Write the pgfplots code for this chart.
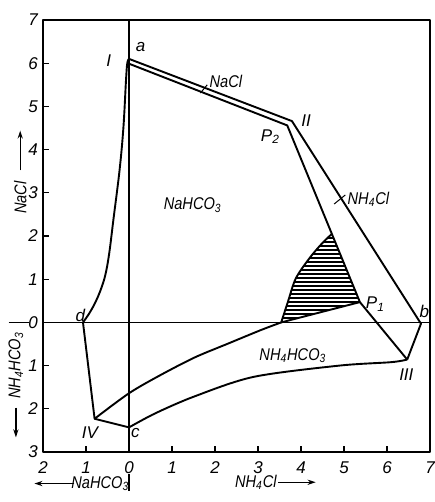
\documentclass[border=0pt]{standalone}
\usepackage{fontspec}
\setmainfont{Liberation Sans}
\usepackage{graphicx}
\usepackage{pgfplots}
\pgfplotsset{compat=1.18}
\usetikzlibrary{patterns.meta,arrows.meta}
\newcommand{\lab}{\fontsize{8.5}{10}\selectfont\itshape}
\newcommand{\cn}[1]{\scalebox{0.86}[1]{#1}}
\begin{document}
\begin{tikzpicture}[line cap=round, line join=round]
\begin{axis}[
  scale only axis, width=193.5pt, height=216pt,
  xmin=-2, xmax=7, ymin=-3, ymax=7,
  clip=false,
  axis line style={line width=0.7pt},
  xtick={-2,-1,...,7}, xticklabels={2,1,0,1,2,3,4,5,6,7},
  ytick={-3,-2,...,7}, yticklabels={3,2,1,0,1,2,3,4,5,6,7},
  tick pos=left, tick align=inside, major tick length=3pt,
  every tick/.style={black, line width=0.6pt},
  /pgf/number format/assume math mode=true,
  ticklabel style={font=\lab},
  yticklabel style={xshift=1pt},
  xticklabel style={yshift=-1.5pt},
  cycle list={{black, line width=0.95pt, mark=none}},
  every axis plot/.append style={black, line width=0.95pt, mark=none},
]
% reference lines through zero
\draw[line width=0.6pt] (axis cs:-2,0) -- (axis cs:7,0);
\draw[line width=0.6pt] (axis cs:-2.8,0) -- (axis cs:-2.32,0);
\draw[line width=0.6pt] (axis cs:0,-3) -- (axis cs:0,7);
\draw[line width=0.6pt] (axis cs:0,-3.5) -- (axis cs:0,-3.9);

% hatched region
\addplot[draw=none, pattern={Lines[angle=0,distance=2pt,line width=0.65pt]}]
  coordinates {(3.54,0) (3.6,0.22) (3.7,0.49) (3.88,1.02) (4.2,1.49) (4.5,1.84) (4.72,2.05) (5.37,0.47) (3.54,0)} -- cycle;
\addplot[smooth] coordinates {(3.54,0) (3.7,0.49) (3.88,1.02) (4.2,1.49) (4.5,1.84) (4.72,2.05)};

% left curve d -> I and outer boundary a - II - b - III
\addplot[smooth, tension=0.6] coordinates {(-1.07,0) (-0.93,0.2) (-0.79,0.45) (-0.66,0.75) (-0.55,1.1) (-0.46,1.6) (-0.36,2.4) (-0.22,3.52) (-0.13,4.51) (-0.07,5.6) (-0.04,6.0) (0.0,6.1)};
\addplot coordinates {(0.0,6.1) (3.79,4.66) (6.79,-0.03) (6.47,-0.86)};
% inner boundary I - P2 - P1 - III
\addplot coordinates {(-0.03,6.0) (3.68,4.56) (5.37,0.47) (6.47,-0.86)};
% d - IV - c
\addplot coordinates {(-1.07,0) (-0.8,-2.23) (0,-2.43)};
% upper curve IV -> zero line -> P1
\addplot[smooth] coordinates {(-0.8,-2.23) (0,-1.64) (0.73,-1.22) (1.53,-0.81) (2.28,-0.5) (3.06,-0.18) (3.54,0)};
\addplot coordinates {(3.54,0) (5.37,0.47)};
% lower curve c -> III
\addplot[smooth] coordinates {(0,-2.43) (0.62,-2.1) (1.53,-1.71) (2.9,-1.26) (4.89,-1.0) (6.1,-0.92) (6.47,-0.86)};

% leaders
\draw[line width=0.5pt] (axis cs:1.66,5.31) -- (axis cs:1.82,5.5);
\draw[line width=0.5pt] (axis cs:4.77,2.74) -- (axis cs:5.03,2.95);

% labels
\node[font=\lab] at (axis cs:-0.47,6.06) {I};
\node[font=\lab] at (axis cs:0.27,6.37) {a};
\node[font=\lab, anchor=west, inner sep=1pt] at (axis cs:1.82,5.58) {\cn{NaCl}};
\node[font=\lab] at (axis cs:4.12,4.68) {II};
\node[font=\lab] at (axis cs:3.29,4.3) {P\textsubscript{2}};
\node[font=\lab, anchor=west, inner sep=1pt] at (axis cs:5.03,2.85) {\cn{NH\textsubscript{4}Cl}};
\node[font=\lab] at (axis cs:1.48,2.72) {\cn{NaHCO\textsubscript{3}}};
\node[font=\lab] at (axis cs:5.73,0.42) {P\textsubscript{1}};
\node[font=\lab] at (axis cs:6.87,0.25) {b};
\node[font=\lab] at (axis cs:3.81,-0.77) {\cn{NH\textsubscript{4}HCO\textsubscript{3}}};
\node[font=\lab] at (axis cs:6.45,-1.22) {III};
\node[font=\lab] at (axis cs:-0.91,-2.55) {IV};
\node[font=\lab] at (axis cs:0.15,-2.57) {c};
\node[font=\lab] at (axis cs:-1.13,0.16) {d};

% axis titles
\node[font=\lab, rotate=90] at (axis cs:-2.53,2.89) {\cn{NaCl}};
\draw[line width=0.6pt, -{Stealth[length=4pt,width=2.6pt]}] (axis cs:-2.53,3.52) -- (axis cs:-2.53,4.44);
\node[font=\lab, rotate=90] at (axis cs:-2.63,-1.0) {\cn{NH\textsubscript{4}HCO\textsubscript{3}}};
\draw[line width=0.6pt, -{Stealth[length=4pt,width=2.6pt]}] (axis cs:-2.63,-1.97) -- (axis cs:-2.63,-2.66);
\node[font=\lab] at (axis cs:-0.67,-3.73) {\cn{NaHCO\textsubscript{3}}};
\draw[line width=0.6pt, -{Stealth[length=4pt,width=2.6pt]}] (axis cs:-1.27,-3.73) -- (axis cs:-2.2,-3.73);
\node[font=\lab] at (axis cs:2.95,-3.7) {\cn{NH\textsubscript{4}Cl}};
\draw[line width=0.6pt, -{Stealth[length=4pt,width=2.6pt]}] (axis cs:3.47,-3.7) -- (axis cs:4.34,-3.7);

\coordinate (BL) at (axis cs:-3.0,-4.157);
\coordinate (TR) at (axis cs:7.116,7.463);
\end{axis}
\pgfresetboundingbox
\path[use as bounding box] (BL) rectangle (TR);
\end{tikzpicture}
\end{document}
